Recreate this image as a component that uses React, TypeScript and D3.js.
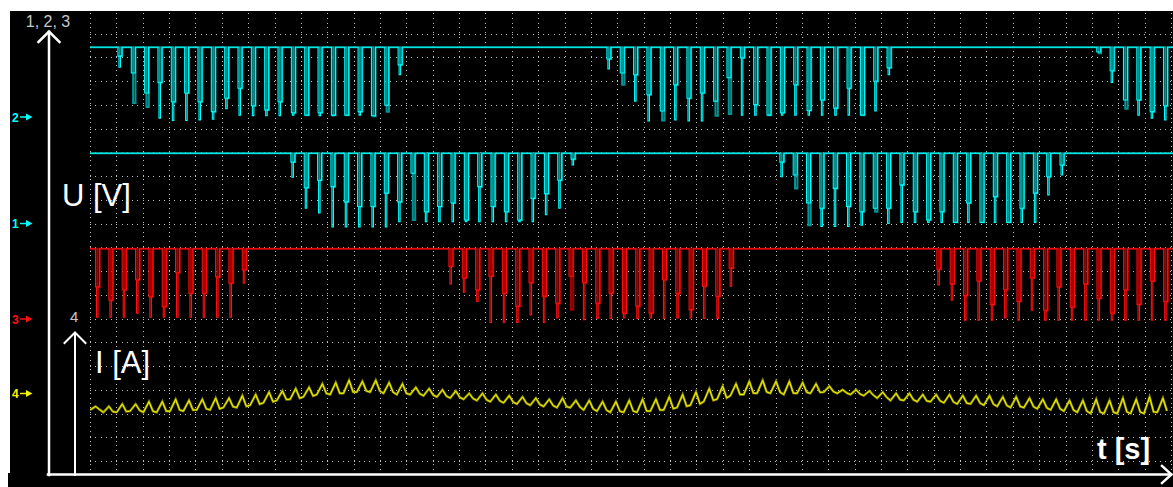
import React from 'react';
import * as d3 from 'd3';

// ---------- data ----------
const TIME_MAX_MS = 821.5;          // visible time span
const TIME_DIV_MS = 20;             // ms per horizontal division
const TIME_DIVS = 41;
const VOLT_DIVS = 18;
const PULSE_PERIOD_MS = 10.12;
const HIGH_V = 12;

// channel 2 (top, cyan): burst start times (ms) and per-pulse [bright min V, echo min V]
const ch2Starts = [21.2, 392.1, 763.7];
const ch2BurstA = [[8.6,10.5],[7.6,2.5],[4.2,1.8],[-0.1,6.0],[-0.5,2.7],[-0.5,4.2],[-0.4,2.7],[-0.3,1.0],[1.5,3.3],[0.4,5.0],[0.3,2.0],[0.3,1.3],[0.3,2.7],[0.4,0.8],[0.4,0.4],[0.3,0.8],[0.3,0.4],[0.4,0.4],[0.4,1.0],[0.3,0.2],[2.1,1.0],[7.3,9.0]];
const ch2BurstB = [[8.3,10.0],[7.6,5.6],[2.8,7.3],[-0.6,3.9],[1.1,-0.5],[-0.4,5.6],[-0.6,3.3],[-0.6,4.2],[2.8,0.3],[6.8,0.6],[0.4,10.2],[0.4,2.2],[0.4,0.4],[0.4,0.8],[0.4,5.6],[0.4,1.2],[0.4,3.0],[0.4,1.6],[0.4,5.0],[0.4,0.4],[1.1,6.2],[7.3,8.5]];
const ch2BurstC = [[11.2,11.0],[6.0,8.0],[3.0,1.5],[0.4,3.0],[-0.1,1.0],[-0.4,2.0]];

// channel 1 (middle, cyan)
const ch1Starts = [152.4, 523.3];
const ch1BurstA = [[7.9,10.5],[2.6,6.1],[1.8,7.4],[-0.6,6.3],[-0.6,3.7],[-0.6,2.9],[-0.6,2.9],[-0.6,5.2],[0.3,3.7],[8.6,0.6],[0.3,2.0],[0.3,2.9],[0.3,3.5],[0.3,0.6],[0.3,6.3],[0.3,2.9],[0.3,2.0],[0.3,0.6],[0.3,4.3],[1.5,5.1],[2.6,7.4],[10.0,11.0]];
const ch1BurstB = [[8.0,10.5],[8.3,6.0],[3.5,-0.3],[-0.5,2.6],[-0.5,6.0],[-0.5,2.9],[-0.3,2.0],[2.6,2.0],[0.0,2.6],[0.2,6.6],[0.2,2.0],[0.2,0.6],[0.2,2.0],[0.2,0.2],[0.2,3.5],[0.2,0.2],[0.2,4.6],[0.2,0.2],[0.2,2.6],[0.2,5.2],[4.9,8.0],[8.3,10.0]];

// channel 3 (red)
const ch3Starts = [4.2, 272.3, 642.4];
const ch3BurstA = [[0.3,5.5],[0.3,3.2],[0.3,5.0],[1.0,6.7],[0.3,3.8],[0.3,2.1],[0.3,7.9],[0.3,4.4],[0.3,4.4],[0.3,7.2],[0.3,6.1],[6.1,8.4]];
const ch3BurstB = [[6.0,9.0],[4.6,7.0],[3.0,5.0],[-0.6,7.3],[-0.6,4.4],[-0.6,2.2],[0.7,6.2],[-0.6,3.9],[0.2,2.7],[7.3,1.6],[-0.1,6.2],[0.1,2.7],[0.1,4.4],[0.2,1.0],[0.1,2.2],[0.2,1.0],[0.1,6.7],[0.2,4.4],[0.2,1.6],[0.1,5.6],[0.1,3.9],[5.6,8.7]];
const ch3BurstC = [[5.8,8.5],[3.2,6.0],[-0.2,4.0],[-0.2,6.5],[-0.2,2.5],[0.2,5.0],[-0.2,3.0],[1.5,7.0],[-0.2,1.5],[-0.2,5.5],[-0.2,2.0],[-0.2,6.0],[-0.2,3.5],[-0.2,1.0],[-0.2,5.0],[-0.2,2.5],[-0.2,6.5],[-0.2,3.0]];

// channel 4 (yellow current): per ripple cycle trough / peak in A
const ch4Troughs = [4.3,4.1,4.1,4.2,4.1,4.1,4.2,4.2,4.3,4.3,4.5,4.5,4.7,4.9,5.1,5.2,5.4,5.6,5.6,5.7,5.8,5.8,5.7,5.6,5.6,5.5,5.4,5.3,5.2,5.1,5.0,4.9,4.8,4.7,4.6,4.5,4.5,4.3,4.2,4.1,4.1,4.1,4.2,4.3,4.5,4.7,5.0,5.2,5.5,5.6,5.7,5.7,5.6,5.7,5.7,5.8,5.7,5.6,5.5,5.3,5.1,5.1,5.0,5.0,4.9,4.8,4.8,4.7,4.6,4.5,4.5,4.4,4.3,4.2,4.1,4.0,4.0,4.0,4.0,4.0,4.1];
const ch4Peaks = [4.6,4.6,4.8,4.8,5.0,5.0,5.2,5.1,5.2,5.3,5.3,5.5,5.6,5.8,5.9,6.1,6.2,6.5,6.6,6.8,6.7,6.8,6.6,6.5,6.2,6.1,6.0,5.9,5.7,5.7,5.6,5.5,5.4,5.3,5.2,5.3,5.1,5.1,5.0,5.0,5.1,5.2,5.2,5.4,5.6,5.8,6.1,6.3,6.5,6.7,6.8,6.7,6.7,6.6,6.5,6.3,6.0,6.0,5.9,5.8,5.7,5.7,5.6,5.6,5.6,5.5,5.5,5.5,5.4,5.4,5.3,5.2,5.2,5.1,5.1,5.2,5.1,5.3,5.2,5.4,5.3];

// channel markers / labels
const channelLabels = ['2', '1', '3', '4'];
const axisLabelU = 'U [V]';
const axisLabelI = 'I [A]';
const axisLabelT = 't [s]';
const axisTop1 = '1, 2, 3';
const axisTop2 = '4';

// ---------- layout ----------
const W = 1173, H = 487;
const PLOT_LEFT = 90;
const GRID_TOP = 33.5, GRID_BOTTOM = 461;
const PX_PER_V = 5.85;
const ZERO = { ch2: 117.5, ch1: 223.5, ch3: 319, ch4: 393.5 };

const CYAN = '#00ffff', CYAN_DARK = '#009494';
const RED = '#ff1010', RED_DARK = '#a80000';
const YEL = '#f6f600', YEL_DARK = '#8e8e00';

function pulseTraces(starts: number[], bursts: number[][][], x: any, y: any) {
  const u = (TIME_MAX_MS / (W - PLOT_LEFT)); // ms per pixel
  const bright: [number, number][] = [[0, HIGH_V]];
  const echo: [number, number][] = [[0, HIGH_V]];
  starts.forEach((s, bi) => {
    bursts[bi].forEach(([b, d], k) => {
      const t = s + k * PULSE_PERIOD_MS;
      const st = Math.max(b, d);
      bright.push([t, HIGH_V], [t, st], [t + u, st], [t + u, b], [t + 2.5 * u, b], [t + 2.5 * u, st], [t + 4 * u, st], [t + 4 * u, HIGH_V]);
      echo.push([t + 1.8 * u, HIGH_V], [t + 1.8 * u, d], [t + 4.2 * u, d], [t + 4.2 * u, HIGH_V]);
    });
  });
  bright.push([TIME_MAX_MS, HIGH_V]);
  echo.push([TIME_MAX_MS, HIGH_V]);
  const line = d3.line<[number, number]>().x(p => x(p[0])).y(p => y(p[1]));
  return { bright: line(bright) || '', echo: line(echo) || '' };
}

function Marker({ label, yPos, color }: { label: string; yPos: number; color: string }) {
  return (
    <g>
      <text x={12} y={yPos + 4.5} fontSize={12} fontWeight="bold" fill={color} fontFamily="'Liberation Sans', Arial, sans-serif">{label}</text>
      <line x1={20} x2={27} y1={yPos} y2={yPos} stroke={color} strokeWidth={1.5} />
      <path d={`M26,${yPos - 3.5} L32.5,${yPos} L26,${yPos + 3.5} Z`} fill={color} />
    </g>
  );
}

export default function App() {
  const x = d3.scaleLinear().domain([0, TIME_MAX_MS]).range([PLOT_LEFT, W]);
  const gridY = d3.scaleLinear().domain([0, VOLT_DIVS]).range([GRID_TOP, GRID_BOTTOM]);
  const yCh = (zero: number) => d3.scaleLinear().domain([0, HIGH_V]).range([zero, zero - HIGH_V * PX_PER_V]);
  const y2 = yCh(ZERO.ch2), y1 = yCh(ZERO.ch1), y3 = yCh(ZERO.ch3);
  const y4 = d3.scaleLinear().domain([0, 10]).range([GRID_BOTTOM, GRID_BOTTOM - 5 * (GRID_BOTTOM - GRID_TOP) / VOLT_DIVS]);

  const t2 = pulseTraces(ch2Starts, [ch2BurstA, ch2BurstB, ch2BurstC], x, y2);
  const t1 = pulseTraces(ch1Starts, [ch1BurstA, ch1BurstB], x, y1);
  const t3 = pulseTraces(ch3Starts, [ch3BurstA, ch3BurstB, ch3BurstC], x, y3);

  const ypts: [number, number][] = [];
  ch4Troughs.forEach((tr, k) => {
    const t0 = k * PULSE_PERIOD_MS;
    const pk = ch4Peaks[k];
    ypts.push(
      [t0, tr],
      [t0 + 0.42 * PULSE_PERIOD_MS, pk],
      [t0 + 0.72 * PULSE_PERIOD_MS, tr + 0.1 * (pk - tr)]
    );
  });
  const yLine = d3.line<[number, number]>().x(p => x(Math.min(p[0], TIME_MAX_MS))).y(p => y4(p[1]));
  const yPath = yLine(ypts) || '';

  const vTicks = d3.range(0, TIME_DIVS + 1).map(k => x(k * TIME_DIV_MS));
  const hTicks = d3.range(0, VOLT_DIVS + 1).map(k => gridY(k));

  const font = "'Liberation Sans', Arial, sans-serif";

  return (
    <svg width={W} height={H} style={{ position: 'absolute', left: 0, top: 0, background: '#fff' }}>
      <defs>
        <clipPath id="plot"><rect x={PLOT_LEFT} y={11} width={W - PLOT_LEFT} height={H - 11} /></clipPath>
      </defs>
      <rect x={10} y={11} width={W - 10} height={H - 11} fill="#000" />
      <rect x={8} y={473} width={4} height={14} fill="#000" />

      {/* grid */}
      <g stroke="#bdbdbd" strokeWidth={1} shapeRendering="crispEdges">
        {vTicks.map((vx, i) => (
          <line key={'v' + i} x1={Math.round(vx) + 0.5} x2={Math.round(vx) + 0.5} y1={13} y2={470} strokeDasharray="1,3.75" />
        ))}
        {hTicks.map((hy, i) => (
          <line key={'h' + i} x1={PLOT_LEFT} x2={W} y1={Math.round(hy) + 0.5} y2={Math.round(hy) + 0.5} strokeDasharray="1,4.27" />
        ))}
      </g>

      {/* traces */}
      <g clipPath="url(#plot)" fill="none" strokeLinejoin="miter">
        <path d={t2.echo} stroke={CYAN_DARK} strokeWidth={2} />
        <path d={t2.bright} stroke={CYAN} strokeWidth={1.1} />
        <path d={t1.echo} stroke={CYAN_DARK} strokeWidth={2} />
        <path d={t1.bright} stroke={CYAN} strokeWidth={1.1} />
        <path d={t3.echo} stroke={RED_DARK} strokeWidth={2} />
        <path d={t3.bright} stroke={RED} strokeWidth={1.1} />
        <path d={yPath} stroke={YEL_DARK} strokeWidth={2.4} />
        <path d={yPath} stroke={YEL} strokeWidth={1} />
      </g>

      {/* axes */}
      <g stroke="#fff" fill="none" strokeLinecap="square">
        <line x1={49} y1={475} x2={49} y2={32} strokeWidth={2.5} />
        <path d="M38.5,42 L49,31.5 L59.5,42" strokeWidth={2.5} />
        <line x1={75} y1={475} x2={75} y2={333} strokeWidth={2} />
        <path d="M64.5,343 L75,332.5 L85.5,343" strokeWidth={2} />
        <line x1={48} y1={474.5} x2={1171} y2={474.5} strokeWidth={2.5} />
        <path d="M1162,466 L1171.5,474.5 L1162,483" strokeWidth={2.5} />
      </g>

      {/* markers */}
      <Marker label={channelLabels[0]} yPos={117} color={CYAN} />
      <Marker label={channelLabels[1]} yPos={223.5} color={CYAN} />
      <Marker label={channelLabels[2]} yPos={319} color={RED} />
      <Marker label={channelLabels[3]} yPos={393.5} color={YEL} />

      {/* labels */}
      <text x={48} y={27} textAnchor="middle" fontSize={16} fill="#c8c8c8" fontFamily={font}>{axisTop1}</text>
      <text x={70} y={322} fontSize={15} fill="#c8c8c8" fontFamily={font}>{axisTop2}</text>
      <text x={62} y={206} fontSize={31} fill="#fff" fontFamily={font}>{axisLabelU}</text>
      <text x={95} y={373} fontSize={31} fill="#fff" fontFamily={font}>{axisLabelI}</text>
      <text x={1097} y={459} fontSize={29} fontWeight="bold" fill="#fff" fontFamily={font}>{axisLabelT}</text>
    </svg>
  );
}
